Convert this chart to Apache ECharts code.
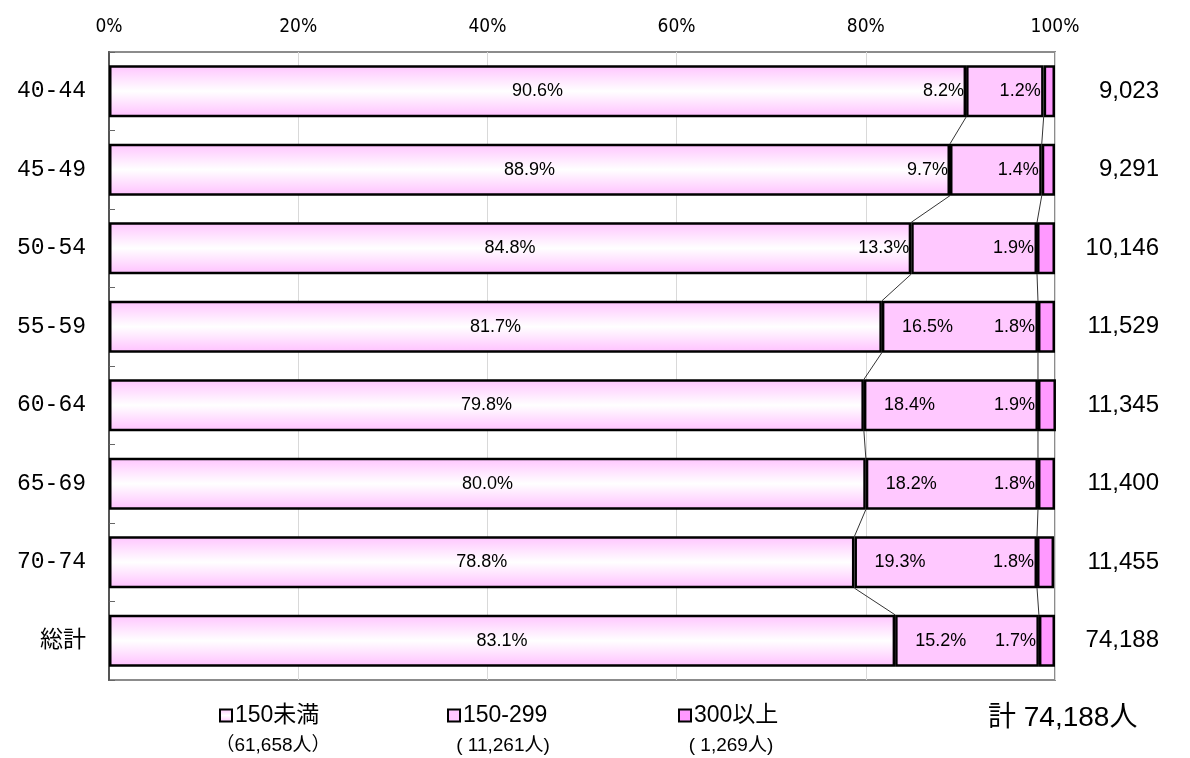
<!DOCTYPE html>
<html><head><meta charset="utf-8">
<script src="https://cdn.jsdelivr.net/npm/echarts@6/dist/echarts.min.js"></script>
<style>html,body{margin:0;padding:0;background:#fff}#c{width:1190px;height:758px}</style>
</head><body><div id="c"></div>
<script>
const categories = ['40-44','45-49','50-54','55-59','60-64','65-69','70-74','総計'];
const seriesNames = ['150未満','150-299','300以上'];
const under150 = [90.6, 88.9, 84.8, 81.7, 79.8, 80.0, 78.8, 83.1];
const mid150 = [8.2, 9.7, 13.3, 16.5, 18.4, 18.2, 19.3, 15.2];
const over300 = [1.2, 1.4, 1.9, 1.8, 1.9, 1.8, 1.8, 1.7];
const totals = ['9,023','9,291','10,146','11,529','11,345','11,400','11,455','74,188'];
const xTickLabels = ['0%','20%','40%','60%','80%','100%'];
const legendCounts = ['（61,658人）','( 11,261人)','( 1,269人)'];
const grandTotal = '計 74,188人';

const NARROW = "'Liberation Sans Narrow','DejaVu Sans Condensed','Liberation Sans',Arial,sans-serif";
const SANS = "'Liberation Sans','Noto Sans CJK JP',sans-serif";
const BAR_RATIO = 0.66;

const chart = echarts.init(document.getElementById('c'), null, {renderer: 'canvas'});

const pct = v => v.toFixed(1) + '%';
const lblBase = {show: true, color: '#000', fontSize: 18, fontFamily: SANS};

const s1 = under150.map(v => ({value: v}));
const s2 = mid150.map(v => ({
  value: v,
  label: v < 14 ? {position: 'left', distance: 2} : {position: 'insideLeft', distance: 20}
}));
const s3 = over300.map(v => ({value: v, label: {position: 'left', distance: 3}}));

const connectorData = categories.slice(0, -1).map((c, i) => [under150[i], i]);

const option = {
  backgroundColor: '#fff',
  animation: false,
  grid: {left: 109, right: 135, top: 52, bottom: 78, show: true, borderColor: '#8c8c8c', borderWidth: 2, containLabel: false},
  xAxis: {
    type: 'value', position: 'top', min: 0, max: 100, interval: 20,
    axisLine: {show: false}, axisTick: {show: false},
    splitLine: {show: true, lineStyle: {color: '#d9d9d9', width: 1}},
    axisLabel: {fontSize: 19, fontFamily: NARROW, color: '#000', margin: 15,
      formatter: v => xTickLabels[Math.round(v / 20)]}
  },
  yAxis: [{
    type: 'category', data: categories, inverse: true,
    axisLine: {show: true, lineStyle: {color: '#555', width: 2}},
    axisTick: {show: true, inside: true, length: 6, interval: 0, lineStyle: {color: '#666'}},
    axisLabel: {fontSize: 23, fontFamily: "'Liberation Mono','Noto Sans CJK JP',monospace", color: '#000', margin: 23}
  }, {
    type: 'category', data: totals, inverse: true, position: 'right',
    axisLine: {show: false}, axisTick: {show: false},
    axisLabel: {fontSize: 24, fontFamily: SANS, color: '#000', align: 'right', margin: 104}
  }],
  legend: seriesNames.map((n, i) => ({
    data: [n], left: [214, 442, 673][i], top: 699, orient: 'horizontal',
    icon: 'rect', itemWidth: 12, itemHeight: 12, selectedMode: false,
    itemStyle: {borderColor: '#000', borderWidth: 2},
    textStyle: {fontSize: 23, fontFamily: SANS, color: '#000', padding: [0, 0, 0, -2]}
  })),
  graphic: [
    ...legendCounts.map((t, i) => ({
      type: 'text', x: [273, 503, 731][i], y: 746,
      style: {text: t, fontSize: 19, fontFamily: SANS, fill: '#000', align: 'center', verticalAlign: 'middle'}
    })),
    {type: 'text', x: 988, y: 718, style: {text: grandTotal, fontSize: 28, fontFamily: SANS, fill: '#000', align: 'left', verticalAlign: 'middle'}}
  ],
  series: [
    {
      name: seriesNames[0], type: 'bar', stack: 'a', barWidth: (BAR_RATIO * 100) + '%', data: s1, z: 3,
      itemStyle: {borderColor: '#000', borderWidth: 2.5,
        color: new echarts.graphic.LinearGradient(0, 0, 0, 1, [
          {offset: 0, color: '#ffc4ff'}, {offset: 0.5, color: '#ffffff'}, {offset: 1, color: '#ffc0ff'}])},
      label: Object.assign({position: 'inside', formatter: p => pct(p.value)}, lblBase)
    },
    {
      name: seriesNames[1], type: 'bar', stack: 'a', data: s2, z: 3,
      itemStyle: {color: '#ffc8ff', borderColor: '#000', borderWidth: 2.5},
      label: Object.assign({formatter: p => pct(p.value)}, lblBase)
    },
    {
      name: seriesNames[2], type: 'bar', stack: 'a', data: s3, z: 3,
      itemStyle: {color: '#ff99ff', borderColor: '#000', borderWidth: 2.5},
      label: Object.assign({formatter: p => pct(p.value)}, lblBase)
    },
    {
      type: 'custom', z: 2, silent: true, data: connectorData, encode: {x: 0, y: 1},
      renderItem: (params, api) => {
        const i = params.dataIndex;
        const band = api.size([0, 1])[1];
        const half = band * BAR_RATIO / 2;
        const b1a = under150[i], b1b = under150[i + 1];
        const b2a = under150[i] + mid150[i], b2b = under150[i + 1] + mid150[i + 1];
        const p1 = api.coord([b1a, i]), q1 = api.coord([b1b, i + 1]);
        const p2 = api.coord([b2a, i]), q2 = api.coord([b2b, i + 1]);
        const st = {stroke: '#000', lineWidth: 0.8};
        return {type: 'group', children: [
          {type: 'line', shape: {x1: p1[0], y1: p1[1] + half, x2: q1[0], y2: q1[1] - half}, style: st},
          {type: 'line', shape: {x1: p2[0], y1: p2[1] + half, x2: q2[0], y2: q2[1] - half}, style: st}
        ]};
      }
    }
  ]
};
chart.setOption(option);
</script>
</body></html>
